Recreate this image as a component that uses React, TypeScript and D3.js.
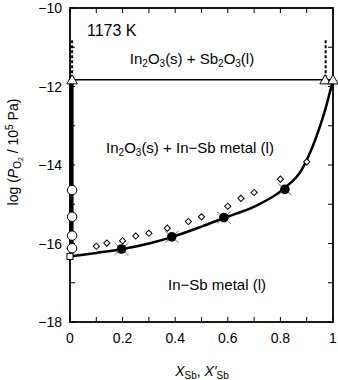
import React from "react";
import * as d3 from "d3";

// Phase boundary between In-Sb liquid metal and In2O3(s)
const boundaryX = [0, 0.1, 0.2, 0.3, 0.39, 0.5, 0.59, 0.7, 0.81, 0.88, 0.93, 0.97, 1.0];
const boundaryLogP = [-16.33, -16.24, -16.14, -16.0, -15.83, -15.57, -15.34, -15.06, -14.62, -14.13, -13.4, -12.6, -11.83];

// Measured equilibrium points (filled circles)
const measuredX = [0.196, 0.387, 0.585, 0.817];
const measuredLogP = [-16.14, -15.83, -15.34, -14.62];

// Calculated points (open diamonds)
const calcX = [0.0, 0.1, 0.14, 0.2, 0.25, 0.3, 0.37, 0.45, 0.5, 0.6, 0.65, 0.7, 0.8, 0.9];
const calcLogP = [-16.12, -16.07, -15.99, -15.93, -15.81, -15.74, -15.61, -15.44, -15.32, -15.05, -14.85, -14.7, -14.36, -13.92];

// In-rich side open circles
const inRichX = [0.008, 0.008, 0.008, 0.008];
const inRichLogP = [-14.64, -15.32, -15.8, -16.12];

// Pure In reference (square)
const squareX = [0];
const squareLogP = [-16.33];

// Three-phase line with triangle end points
const threePhaseLogP = -11.83;
const triangleX = [0.008, 0.97, 1.0];
const dashedX = [0.008, 0.972];
const dashedTopLogP = -10.82;
const leftBarBottomLogP = -16.15;

const xMajorTicks = [0, 0.2, 0.4, 0.6, 0.8, 1];
const xTickLabels = ["0", "0.2", "0.4", "0.6", "0.8", "1"];
const xMinorTicks = [0.1, 0.3, 0.5, 0.7, 0.9];
const yMajorTicks = [-10, -12, -14, -16, -18];
const yTickLabels = ["−10", "−12", "−14", "−16", "−18"];
const yMinorTicks = [-11, -13, -15, -17];

const W = 338;
const H = 380;
const left = 70;
const right = 333;
const top = 8;
const bottom = 322;
const FONT = "'Liberation Sans', Arial, sans-serif";

export default function App() {
  const x = d3.scaleLinear().domain([0, 1]).range([left, right]);
  const y = d3.scaleLinear().domain([-18, -10]).range([bottom, top]);

  const curve = d3
    .line<number>()
    .x((_, i) => x(boundaryX[i]))
    .y((d) => y(d))
    .curve(d3.curveMonotoneX)(boundaryLogP) as string;

  const tri = d3.symbol().type(d3.symbolTriangle).size(48)() as string;

  const tickLen = 5;

  return (
    <svg
      width={W}
      height={H}
      style={{ position: "absolute", left: 0, top: 0, background: "#fff" }}
      fontFamily={FONT}
    >
      <rect x={0} y={0} width={W} height={H} fill="#fff" />

      {/* ticks on all four sides, pointing inward */}
      {xMajorTicks.concat(xMinorTicks).map((t, i) => (
        <g key={"xt" + i} stroke="#000" strokeWidth={1}>
          <line x1={x(t)} x2={x(t)} y1={bottom} y2={bottom - tickLen} />
          <line x1={x(t)} x2={x(t)} y1={top} y2={top + tickLen} />
        </g>
      ))}
      {yMajorTicks.concat(yMinorTicks).map((t, i) => (
        <g key={"yt" + i} stroke="#000" strokeWidth={1}>
          <line x1={left} x2={left + tickLen} y1={y(t)} y2={y(t)} />
          <line x1={right} x2={right - tickLen} y1={y(t)} y2={y(t)} />
        </g>
      ))}

      {/* frame */}
      <rect
        x={left}
        y={top}
        width={right - left}
        height={bottom - top}
        fill="none"
        stroke="#000"
        strokeWidth={1.8}
      />

      {/* tick labels */}
      {xMajorTicks.map((t, i) => (
        <text key={"xl" + i} x={x(t)} y={343} fontSize={14} textAnchor="middle" fill="#000">
          {xTickLabels[i]}
        </text>
      ))}
      {yMajorTicks.map((t, i) => (
        <text key={"yl" + i} x={62} y={y(t) + 5} fontSize={14} textAnchor="end" fill="#000">
          {yTickLabels[i]}
        </text>
      ))}

      {/* axis titles */}
      <text x={202} y={376} fontSize={14} textAnchor="middle" fill="#000">
        <tspan fontStyle="italic">X</tspan>
        <tspan fontSize={10} dy={3}>Sb</tspan>
        <tspan dy={-3}>, </tspan>
        <tspan fontStyle="italic">X′</tspan>
        <tspan fontSize={10} dy={3}>Sb</tspan>
      </text>
      <text
        transform={`translate(18,152) rotate(-90)`}
        fontSize={14}
        textAnchor="middle"
        fill="#000"
      >
        <tspan>log (</tspan>
        <tspan fontStyle="italic">P</tspan>
        <tspan fontSize={10} dy={3}>O</tspan>
        <tspan fontSize={7} dy={2}>2</tspan>
        <tspan dy={-5}> / 10</tspan>
        <tspan fontSize={10} dy={-5}>5</tspan>
        <tspan dy={5}> Pa)</tspan>
      </text>

      {/* region labels */}
      <text x={87} y={36} fontSize={16} fill="#000">1173 K</text>
      <text x={192} y={64} fontSize={15} textAnchor="middle" fill="#000">
        <tspan>In</tspan>
        <tspan fontSize={10} dy={3}>2</tspan>
        <tspan dy={-3}>O</tspan>
        <tspan fontSize={10} dy={3}>3</tspan>
        <tspan dy={-3}>(s) + Sb</tspan>
        <tspan fontSize={10} dy={3}>2</tspan>
        <tspan dy={-3}>O</tspan>
        <tspan fontSize={10} dy={3}>3</tspan>
        <tspan dy={-3}>(l)</tspan>
      </text>
      <text x={190} y={153} fontSize={15} textAnchor="middle" fill="#000">
        <tspan>In</tspan>
        <tspan fontSize={10} dy={3}>2</tspan>
        <tspan dy={-3}>O</tspan>
        <tspan fontSize={10} dy={3}>3</tspan>
        <tspan dy={-3}>(s) + In−Sb metal (l)</tspan>
      </text>
      <text x={217} y={290} fontSize={15} textAnchor="middle" fill="#000">
        In−Sb metal (l)
      </text>

      {/* three-phase line and dashed extensions */}
      <line
        x1={x(0)}
        x2={x(1)}
        y1={y(threePhaseLogP)}
        y2={y(threePhaseLogP)}
        stroke="#000"
        strokeWidth={1.5}
      />
      {dashedX.map((d, i) => (
        <line
          key={"dash" + i}
          x1={x(d)}
          x2={x(d)}
          y1={y(dashedTopLogP)}
          y2={y(threePhaseLogP)}
          stroke="#000"
          strokeWidth={2}
          strokeDasharray="3,2"
        />
      ))}

      {/* In-rich boundary */}
      <line
        x1={x(0.006)}
        x2={x(0.006)}
        y1={y(threePhaseLogP)}
        y2={y(leftBarBottomLogP)}
        stroke="#000"
        strokeWidth={4}
      />

      {/* In-Sb boundary curve */}
      <path d={curve} fill="none" stroke="#000" strokeWidth={2.5} />

      {/* calculated diamonds */}
      {calcX.map((d, i) => (
        <rect
          key={"dia" + i}
          x={-2.2}
          y={-2.2}
          width={4.4}
          height={4.4}
          transform={`translate(${x(d)},${y(calcLogP[i])}) rotate(45)`}
          fill="#fff"
          stroke="#000"
          strokeWidth={1}
        />
      ))}

      {/* In-rich open circles */}
      {inRichX.map((d, i) => (
        <circle
          key={"oc" + i}
          cx={x(d)}
          cy={y(inRichLogP[i])}
          r={4.7}
          fill="#fff"
          stroke="#000"
          strokeWidth={1}
        />
      ))}

      {/* square */}
      {squareX.map((d, i) => (
        <rect
          key={"sq" + i}
          x={x(d) - 3}
          y={y(squareLogP[i]) - 3}
          width={6}
          height={6}
          fill="#fff"
          stroke="#000"
          strokeWidth={1}
        />
      ))}

      {/* measured filled circles with crosses */}
      {measuredX.map((d, i) => {
        const cx = x(d);
        const cy = y(measuredLogP[i]);
        return (
          <g key={"fc" + i}>
            <g stroke="#777" strokeWidth={1}>
              <line x1={cx - 7} x2={cx + 7} y1={cy - 6} y2={cy + 6} />
              <line x1={cx - 7} x2={cx + 7} y1={cy + 6} y2={cy - 6} />
            </g>
            <circle cx={cx} cy={cy} r={4.8} fill="#000" />
          </g>
        );
      })}

      {/* triangles on the three-phase line */}
      {triangleX.map((d, i) => (
        <path
          key={"tri" + i}
          d={tri}
          transform={`translate(${x(d)},${y(threePhaseLogP) + 1})`}
          fill="#fff"
          stroke="#000"
          strokeWidth={1}
        />
      ))}
    </svg>
  );
}
